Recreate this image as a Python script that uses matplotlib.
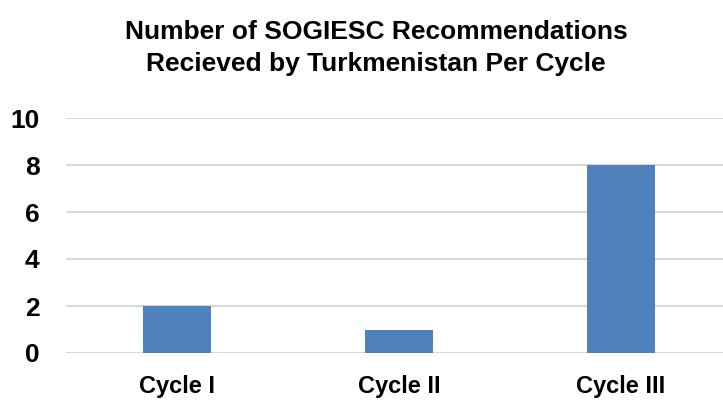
import matplotlib

matplotlib.use('Agg')
from matplotlib import pyplot as plt

# data
cycles = ['Cycle I', 'Cycle II', 'Cycle III']
recommendations = [2, 1, 8]
y_ticks = [0, 2, 4, 6, 8, 10]

plt.rcParams['font.family'] = ['Liberation Sans Narrow', 'Liberation Sans', 'DejaVu Sans']
plt.rcParams['font.weight'] = 'bold'

fig = plt.figure(figsize=(7.23, 4.03), dpi=100)
# plot area runs a bit past the right edge, as in the reference
ax = fig.add_axes([66 / 723, (403 - 353) / 403, 666 / 723, 235 / 403])

x = range(len(cycles))
ax.bar(x, recommendations, width=0.31, color='#4f81bd', zorder=3)

ax.set_xlim(-0.5, 2.5)
ax.set_ylim(0, 10)
ax.set_yticks(y_ticks)
ax.set_yticklabels([str(v) for v in y_ticks], fontsize=19, fontweight='bold')
ax.set_xticks(list(x))
ax.set_xticklabels(cycles, fontsize=17, fontweight='bold')
ax.tick_params(axis='both', length=0)
ax.tick_params(axis='x', pad=16)
ax.tick_params(axis='y', pad=19)

ax.grid(True, axis='y', color='#d9d9d9', linewidth=1.5, zorder=0)
for side in ['top', 'right', 'left', 'bottom']:
    ax.spines[side].set_visible(False)

fig.text(376 / 723, 1 - 48 / 403, 'Number of SOGIESC Recommendations\nRecieved by Turkmenistan Per Cycle',
         ha='center', va='center', fontsize=19, fontweight='bold', linespacing=1.45)

plt.savefig('out.png', dpi=100)
plt.close('all')
